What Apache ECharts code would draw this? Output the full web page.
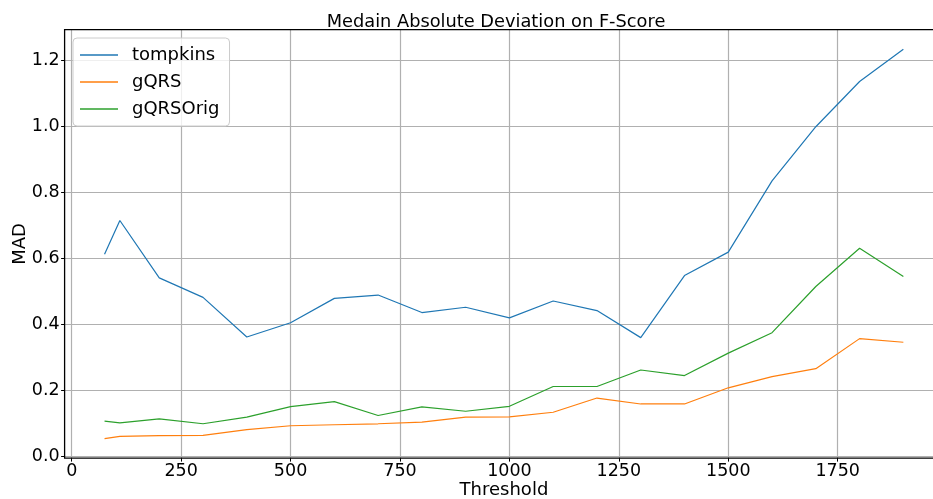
<!DOCTYPE html>
<html>
<head>
<meta charset="utf-8">
<script src="https://cdn.jsdelivr.net/npm/echarts@6/dist/echarts.min.js"></script>
<style>
  html, body { margin: 0; padding: 0; background: #fff; }
  #chart { width: 933px; height: 499px; }
</style>
</head>
<body>
<div id="chart"></div>
<script>
// Threshold values on the x axis
const thresholds = [75, 110, 200, 300, 400, 500, 600, 700, 800, 900, 1000, 1100, 1200, 1300, 1400, 1500, 1600, 1700, 1800, 1900];

// Median absolute deviation of F-score per detector
const tompkins = [0.613, 0.715, 0.541, 0.482, 0.362, 0.405, 0.479, 0.489, 0.436, 0.452, 0.420, 0.471, 0.442, 0.360, 0.548, 0.619, 0.835, 0.999, 1.136, 1.234];
const gqrs     = [0.054, 0.061, 0.063, 0.064, 0.081, 0.093, 0.096, 0.099, 0.104, 0.119, 0.120, 0.134, 0.177, 0.159, 0.159, 0.208, 0.242, 0.266, 0.357, 0.346];
const gqrsOrig = [0.107, 0.102, 0.114, 0.099, 0.119, 0.151, 0.166, 0.124, 0.150, 0.137, 0.152, 0.212, 0.212, 0.262, 0.245, 0.313, 0.375, 0.515, 0.631, 0.545];

const seriesNames = ['tompkins', 'gQRS', 'gQRSOrig'];
const seriesValues = [tompkins, gqrs, gqrsOrig];
const colors = ['#1f77b4', '#ff7f0e', '#2ca02c'];

const FONT = 'DejaVu Sans';

// Plot frame (pixels) and data extents with 5% padding around the data
const W = 933, H = 499;
const plot = { left: 64.6, right: 943.3, top: 29.7, bottom: 458.1 };
const xExt = [-16.25, 1991.25];
const yExt = [-0.005, 1.293];
const xStep = 250, yStep = 0.2;

const pxPerX = (plot.right - plot.left) / (xExt[1] - xExt[0]);
const pxPerY = (plot.bottom - plot.top) / (yExt[1] - yExt[0]);

// Main grid carries the data; tick grids start at the first round tick value
const gridMain = { left: plot.left, right: W - plot.right, top: plot.top, bottom: H - plot.bottom };
const gridXTicks = { left: plot.left + (0 - xExt[0]) * pxPerX, right: W - plot.right, top: plot.top, bottom: H - plot.bottom };
const gridYTicks = { left: plot.left, right: W - plot.right, top: plot.top, bottom: H - plot.bottom + (0 - yExt[0]) * pxPerY };

const gridCommon = { containLabel: false, outerBoundsMode: 'none' };

const hiddenAxis = (gridIndex, min, max, extra) => Object.assign({
  type: 'value', gridIndex, min, max,
  axisLine: { show: false, onZero: false },
  axisTick: { show: false },
  axisLabel: { show: false },
  splitLine: { show: false }
}, extra || {});

const tickStyle = { show: true, length: 3.5, lineStyle: { color: '#000', width: 1 } };
const gridLineStyle = { show: true, lineStyle: { color: '#b0b0b0', width: 1.2 } };

const chart = echarts.init(document.getElementById('chart'), null, { renderer: 'canvas' });

const series = seriesNames.map((name, i) => ({
  name: name,
  type: 'line',
  xAxisIndex: 0,
  yAxisIndex: 0,
  showSymbol: false,
  symbol: 'none',
  data: thresholds.map((t, j) => [t, seriesValues[i][j]]),
  lineStyle: { color: colors[i], width: 1.2 },
  itemStyle: { color: colors[i] },
  z: 5,
  animation: false
}));

chart.setOption({
  animation: false,
  backgroundColor: '#ffffff',
  color: colors,
  title: {
    text: 'Medain Absolute Deviation on F-Score',
    left: 491,
    textAlign: 'center',
    top: 8,
    textStyle: { fontFamily: FONT, fontSize: 17.8, fontWeight: 'normal', color: '#000' }
  },
  grid: [
    Object.assign({ show: true, borderColor: '#000', borderWidth: 1.3, backgroundColor: 'transparent', z: 3 }, gridCommon, gridMain),
    Object.assign({ show: false }, gridCommon, gridXTicks),
    Object.assign({ show: false }, gridCommon, gridYTicks)
  ],
  legend: {
    orient: 'vertical',
    left: 73,
    top: 38,
    data: seriesNames,
    icon: 'rect',
    itemWidth: 38,
    itemHeight: 1.5,
    itemGap: 7,
    padding: [7, 10, 7, 7],
    backgroundColor: 'rgba(255,255,255,0.8)',
    borderColor: '#cccccc',
    borderWidth: 1,
    borderRadius: 4,
    z: 10,
    textStyle: { fontFamily: FONT, fontSize: 18, color: '#000', lineHeight: 20, padding: [0, 0, 0, 9] }
  },
  xAxis: [
    // data axis, carries only the axis title
    hiddenAxis(0, xExt[0], xExt[1], {
      show: true,
      name: 'Threshold',
      nameLocation: 'middle',
      nameGap: 23,
      nameTextStyle: { fontFamily: FONT, fontSize: 18, color: '#000' }
    }),
    // ticks, labels and vertical grid lines
    {
      type: 'value', gridIndex: 1, min: 0, max: xExt[1], interval: xStep,
      axisLine: { show: false, onZero: false },
      axisTick: tickStyle,
      axisLabel: {
        fontFamily: FONT, fontSize: 17.5, color: '#000', margin: 4,
        showMaxLabel: false,
        formatter: v => (Math.abs(v % xStep) < 1e-6 ? String(v) : '')
      },
      splitLine: gridLineStyle
    },
    hiddenAxis(2, xExt[0], xExt[1])
  ],
  yAxis: [
    hiddenAxis(0, yExt[0], yExt[1], {
      show: true,
      name: 'MAD',
      nameLocation: 'middle',
      nameGap: 35,
      nameRotate: 90,
      nameTextStyle: { fontFamily: FONT, fontSize: 18, color: '#000' }
    }),
    hiddenAxis(1, yExt[0], yExt[1]),
    // ticks, labels and horizontal grid lines
    {
      type: 'value', gridIndex: 2, min: 0, max: yExt[1], interval: yStep,
      axisLine: { show: false, onZero: false },
      axisTick: tickStyle,
      axisLabel: {
        fontFamily: FONT, fontSize: 17.5, color: '#000', margin: 5,
        showMaxLabel: false,
        formatter: v => {
          const r = Math.round(v / yStep) * yStep;
          return Math.abs(v - r) < 1e-6 ? r.toFixed(1) : '';
        }
      },
      splitLine: gridLineStyle
    }
  ],
  series: series
});
</script>
</body>
</html>
